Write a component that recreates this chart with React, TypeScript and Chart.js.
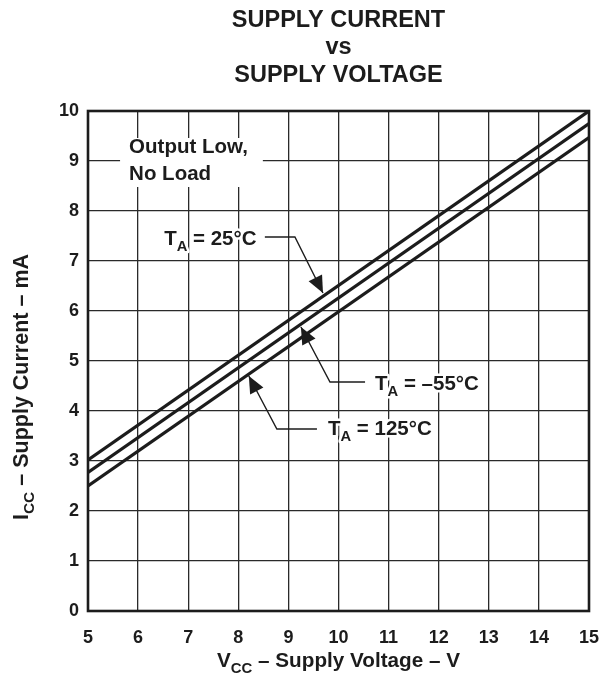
import { useEffect, useRef } from "react";
import { Chart, registerables } from "chart.js";

Chart.register(...registerables);

// ---- data ----
const voltageV = [5, 15];
const currentAt25C = [3.02, 10.0];
const currentAtMinus55C = [2.77, 9.75];
const currentAt125C = [2.5, 9.47];
const xTickValues = [5, 6, 7, 8, 9, 10, 11, 12, 13, 14, 15];
const yTickValues = [0, 1, 2, 3, 4, 5, 6, 7, 8, 9, 10];

const titleLines = ["SUPPLY CURRENT", "vs", "SUPPLY VOLTAGE"];
const noteLines = ["Output Low,", "No Load"];

type Part = { t: string; sub?: boolean };
const labelTexts: Part[][] = [
  [{ t: "T" }, { t: "A", sub: true }, { t: " = 25°C" }],
  [{ t: "T" }, { t: "A", sub: true }, { t: " = –55°C" }],
  [{ t: "T" }, { t: "A", sub: true }, { t: " = 125°C" }],
];
// label anchor (left, baseline) in data units
const labelAnchors = [
  [6.52, 7.32],
  [10.73, 4.42],
  [9.79, 3.52],
];
// leader paths in data units, last point = arrow tip
const leaderPaths = [
  [[8.53, 7.48], [9.13, 7.48], [9.69, 6.36]],
  [[10.53, 4.58], [9.83, 4.58], [9.25, 5.68]],
  [[9.57, 3.64], [8.77, 3.64], [8.21, 4.7]],
];
const noteBox = [5.64, 9.46, 8.49, 8.48]; // x1,y1,x2,y2
const noteAnchors = [
  [5.82, 9.16],
  [5.82, 8.62],
];

const FONT = '"Liberation Sans", Arial, Helvetica, sans-serif';
const INK = "#1c1c1c";

function richWidth(ctx: CanvasRenderingContext2D, parts: Part[], size: number) {
  let w = 0;
  for (const p of parts) {
    ctx.font = `bold ${p.sub ? size * 0.72 : size}px ${FONT}`;
    w += ctx.measureText(p.t).width;
  }
  return w;
}

function drawRich(
  ctx: CanvasRenderingContext2D,
  parts: Part[],
  x: number,
  y: number,
  size: number,
  halo = false
) {
  let cx = x;
  ctx.textBaseline = "alphabetic";
  ctx.textAlign = "left";
  for (const p of parts) {
    const s = p.sub ? size * 0.72 : size;
    ctx.font = `bold ${s}px ${FONT}`;
    const yy = p.sub ? y + size * 0.28 : y;
    if (halo) {
      ctx.strokeStyle = "#ffffff";
      ctx.lineWidth = 5;
      ctx.lineJoin = "round";
      ctx.strokeText(p.t, cx, yy);
    }
    ctx.fillStyle = INK;
    ctx.fillText(p.t, cx, yy);
    cx += ctx.measureText(p.t).width;
  }
}

const decorPlugin = {
  id: "decor",
  beforeDatasetsDraw(chart: any) {
    const { ctx, chartArea, scales } = chart;
    const xs = scales.x;
    const ys = scales.y;
    ctx.save();
    const bx1 = xs.getPixelForValue(noteBox[0]);
    const by1 = ys.getPixelForValue(noteBox[1]);
    const bx2 = xs.getPixelForValue(noteBox[2]);
    const by2 = ys.getPixelForValue(noteBox[3]);
    ctx.fillStyle = "#ffffff";
    ctx.fillRect(bx1, by1, bx2 - bx1, by2 - by1);
    ctx.strokeStyle = INK;
    ctx.lineWidth = 2.6;
    ctx.strokeRect(
      chartArea.left,
      chartArea.top,
      chartArea.right - chartArea.left,
      chartArea.bottom - chartArea.top
    );
    ctx.restore();
  },
  afterDatasetsDraw(chart: any) {
    const { ctx, chartArea, scales } = chart;
    const xs = scales.x;
    const ys = scales.y;
    ctx.save();

    ctx.fillStyle = INK;
    ctx.font = `bold 20.5px ${FONT}`;
    ctx.textAlign = "left";
    ctx.textBaseline = "alphabetic";
    noteLines.forEach((t, i) => {
      ctx.fillText(
        t,
        xs.getPixelForValue(noteAnchors[i][0]),
        ys.getPixelForValue(noteAnchors[i][1])
      );
    });

    leaderPaths.forEach((path) => {
      const pts = path.map((p) => [xs.getPixelForValue(p[0]), ys.getPixelForValue(p[1])]);
      ctx.strokeStyle = INK;
      ctx.lineWidth = 1.4;
      ctx.beginPath();
      pts.forEach((p, i) => (i === 0 ? ctx.moveTo(p[0], p[1]) : ctx.lineTo(p[0], p[1])));
      ctx.stroke();
      const tip = pts[pts.length - 1];
      const prev = pts[pts.length - 2];
      const ang = Math.atan2(tip[1] - prev[1], tip[0] - prev[0]);
      const len = 17;
      const hw = 7.5;
      const bxp = tip[0] - Math.cos(ang) * len;
      const byp = tip[1] - Math.sin(ang) * len;
      ctx.fillStyle = INK;
      ctx.beginPath();
      ctx.moveTo(tip[0], tip[1]);
      ctx.lineTo(bxp + Math.sin(ang) * hw, byp - Math.cos(ang) * hw);
      ctx.lineTo(bxp - Math.sin(ang) * hw, byp + Math.cos(ang) * hw);
      ctx.closePath();
      ctx.fill();
    });

    labelTexts.forEach((parts, i) => {
      drawRich(
        ctx,
        parts,
        xs.getPixelForValue(labelAnchors[i][0]),
        ys.getPixelForValue(labelAnchors[i][1]),
        20.5,
        true
      );
    });

    const cx = (chartArea.left + chartArea.right) / 2;
    ctx.fillStyle = INK;
    ctx.textAlign = "center";
    ctx.font = `bold 23.5px ${FONT}`;
    const baselines = [27, 54, 82];
    titleLines.forEach((t, i) => ctx.fillText(t, cx, baselines[i]));

    const xParts: Part[] = [{ t: "V" }, { t: "CC", sub: true }, { t: " – Supply Voltage – V" }];
    const xw = richWidth(ctx, xParts, 20.7);
    drawRich(ctx, xParts, cx - xw / 2, 667, 20.7);

    const yParts: Part[] = [{ t: "I" }, { t: "CC", sub: true }, { t: " – Supply Current – mA" }];
    const yw = richWidth(ctx, yParts, 21.5);
    ctx.save();
    ctx.translate(28, 387);
    ctx.rotate(-Math.PI / 2);
    drawRich(ctx, yParts, -yw / 2, 0, 21.5);
    ctx.restore();

    ctx.restore();
  },
};

export default function App() {
  const ref = useRef<HTMLCanvasElement | null>(null);
  useEffect(() => {
    document.body.style.margin = "0";
    const canvas = ref.current;
    if (!canvas) return;
    const mk = (ys: number[], label: string) => ({
      label,
      data: voltageV.map((v, i) => ({ x: v, y: ys[i] })),
      borderColor: INK,
      borderWidth: 3.2,
      pointRadius: 0,
      fill: false,
      tension: 0,
    });
    const chart = new Chart(canvas, {
      type: "line",
      data: {
        datasets: [
          mk(currentAt25C, "TA = 25°C"),
          mk(currentAtMinus55C, "TA = –55°C"),
          mk(currentAt125C, "TA = 125°C"),
        ],
      },
      options: {
        animation: false,
        responsive: false,
        layout: { padding: { top: 111, right: 0, left: 0, bottom: 0 } },
        plugins: {
          legend: { display: false },
          tooltip: { enabled: false },
          title: { display: false },
        },
        scales: {
          x: {
            type: "linear",
            min: xTickValues[0],
            max: xTickValues[xTickValues.length - 1],
            afterBuildTicks: (s: any) => {
              s.ticks = xTickValues.map((v) => ({ value: v }));
            },
            afterFit: (s: any) => {
              s.height = 72;
              s.paddingRight = 13;
            },
            border: { display: false },
            grid: { color: "#2a2a2a", lineWidth: 1.3, drawTicks: false },
            ticks: {
              padding: 16,
              color: INK,
              font: { family: FONT, size: 18, weight: "bold" },
              callback: (v: any) => String(v),
            },
          },
          y: {
            type: "linear",
            min: yTickValues[0],
            max: yTickValues[yTickValues.length - 1],
            afterBuildTicks: (s: any) => {
              s.ticks = yTickValues.map((v) => ({ value: v }));
            },
            afterFit: (s: any) => {
              s.width = 88;
            },
            border: { display: false },
            grid: { color: "#2a2a2a", lineWidth: 1.3, drawTicks: false },
            ticks: {
              padding: 9,
              color: INK,
              font: { family: FONT, size: 18, weight: "bold" },
              callback: (v: any) => String(v),
            },
          },
        },
      },
      plugins: [decorPlugin],
    } as any);
    return () => chart.destroy();
  }, []);
  return (
    <div style={{ width: 602, height: 683 }}>
      <canvas ref={ref} width={602} height={683} style={{ display: "block" }} />
    </div>
  );
}
